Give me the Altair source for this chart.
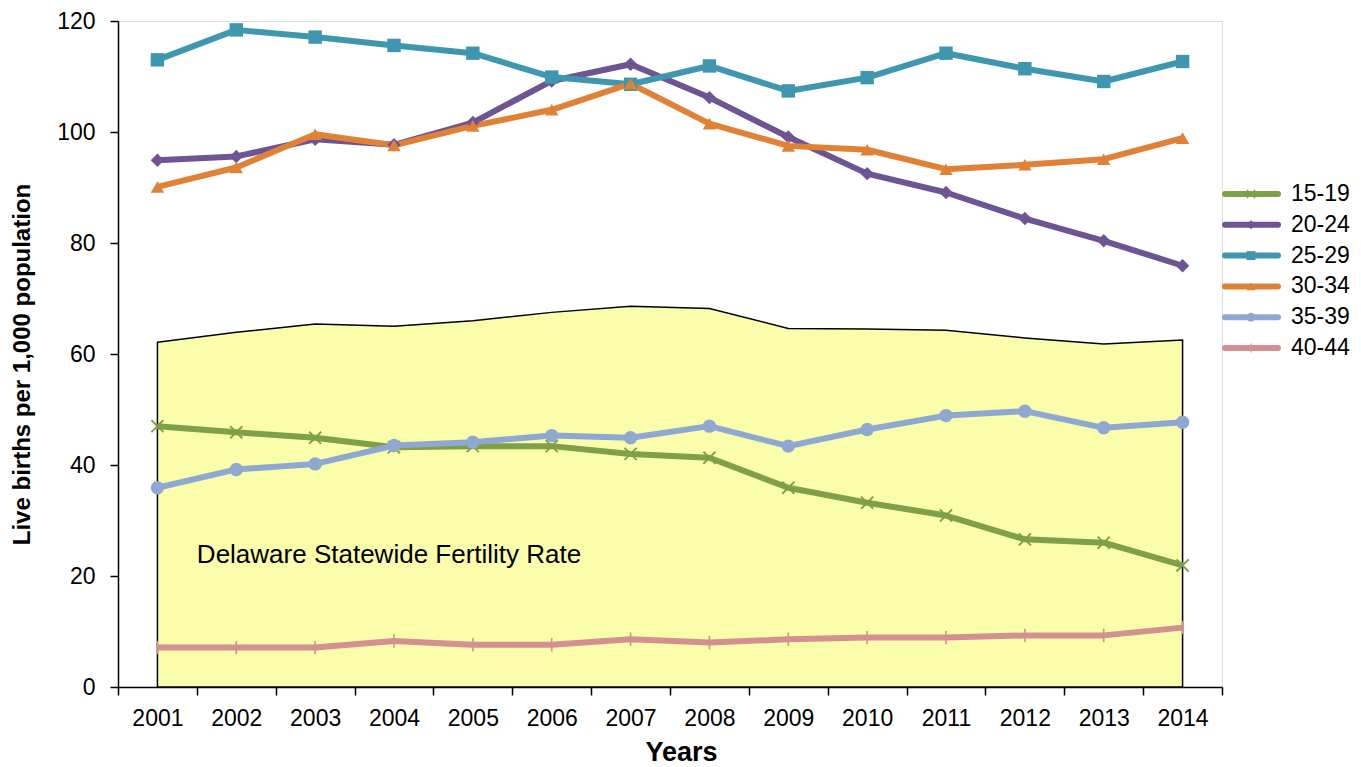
import altair as alt
import pandas as pd

years = [str(y) for y in range(2001, 2015)]
age_groups = ["15-19", "20-24", "25-29", "30-34", "35-39", "40-44"]

s15_19 = [47.0, 45.9, 44.9, 43.2, 43.4, 43.4, 42.0, 41.3, 35.9, 33.2, 30.9, 26.6, 26.0, 21.9]
s20_24 = [94.9, 95.6, 98.7, 97.7, 101.7, 109.2, 112.2, 106.2, 99.1, 92.5, 89.1, 84.4, 80.4, 75.9]
s25_29 = [113.0, 118.4, 117.1, 115.6, 114.2, 109.9, 108.6, 111.9, 107.4, 109.8, 114.2, 111.4, 109.1, 112.7]
s30_34 = [90.1, 93.6, 99.6, 97.6, 101.1, 104.0, 108.7, 101.5, 97.5, 96.8, 93.3, 94.1, 95.1, 98.9]
s35_39 = [35.9, 39.2, 40.2, 43.5, 44.1, 45.3, 44.9, 47.0, 43.4, 46.4, 48.9, 49.7, 46.7, 47.7]
s40_44 = [7.1, 7.1, 7.1, 8.3, 7.6, 7.6, 8.6, 8.0, 8.6, 8.9, 8.9, 9.3, 9.3, 10.7]
statewide = [62.1, 63.9, 65.4, 65.0, 66.0, 67.5, 68.6, 68.2, 64.6, 64.5, 64.3, 62.9, 61.8, 62.5]

annotation_text = "Delaware Statewide Fertility Rate"
annotation_year = "2002"
annotation_value = 23.7

series_values = [s15_19, s20_24, s25_29, s30_34, s35_39, s40_44]
colors = ["#7F9F48", "#6F5494", "#3F97AF", "#E08235", "#8EA8D2", "#D49090"]
x_shape = "M-1,-0.8L-0.8,-1L0,-0.2L0.8,-1L1,-0.8L0.2,0L1,0.8L0.8,1L0,0.2L-0.8,1L-1,0.8L-0.2,0Z"
tick_shape = "M-0.12,-1L0.12,-1L0.12,1L-0.12,1Z"
shapes = [x_shape, "diamond", "square", "triangle-up", "circle", tick_shape]

rows = []
for g, vals in zip(age_groups, series_values):
    for y, v in zip(years, vals):
        rows.append({"year": y, "series": g, "value": v})
df = pd.DataFrame(rows)
df_state = pd.DataFrame({"year": years, "value": statewide})
df_note = pd.DataFrame({"year": [annotation_year], "value": [annotation_value], "label": [annotation_text]})
df_leg = pd.DataFrame({"series": age_groups})

FONT = "Liberation Sans"

x_axis = alt.Axis(
    title="Years", titleFontSize=27, titleFontWeight="bold", titleColor="black", titleFont=FONT,
    titlePadding=9, titleX=563, labelFontSize=23, labelFont=FONT, labelColor="black", labelAngle=0,
    labelPadding=12, tickSize=8, tickBand="extent", tickColor="black", tickWidth=1.5,
    domainColor="black", domainWidth=1.5, grid=False,
)
x_scale = alt.Scale(type="band", domain=years, paddingInner=0, paddingOuter=0)


def xenc(bp=0.5):
    return alt.X("year:O", scale=x_scale, bandPosition=bp, axis=x_axis)


y_enc = alt.Y(
    "value:Q",
    scale=alt.Scale(domain=[0, 120], nice=False, zero=True),
    axis=alt.Axis(
        title="Live births per 1,000 population", titleFontSize=24, titleFontWeight="bold",
        titleColor="black", titleFont=FONT, titlePadding=22, titleY=343,
        values=[0, 20, 40, 60, 80, 100, 120], labelFontSize=23, labelFont=FONT,
        labelColor="black", labelPadding=15, tickSize=8, tickColor="black", tickWidth=1.5,
        domainColor="black", domainWidth=1.5, grid=False,
    ),
)

color_enc = alt.Color("series:N", scale=alt.Scale(domain=age_groups, range=colors), legend=None)
shape_enc = alt.Shape("series:N", scale=alt.Scale(domain=age_groups, range=shapes), legend=None)

area = alt.Chart(df_state).mark_area(
    fill="#FAFDAA", stroke="black", strokeWidth=1.5, opacity=1, interpolate="linear"
).encode(x=xenc(), y=y_enc)

note = alt.Chart(df_note).mark_text(
    align="left", baseline="middle", fontSize=26, font=FONT, color="black"
).encode(x=xenc(0), y=y_enc, text="label:N")

lines = alt.Chart(df).mark_line(strokeWidth=6, strokeJoin="round").encode(
    x=xenc(), y=y_enc, color=color_enc, detail="series:N"
)

points = alt.Chart(df).mark_point(filled=True, size=180, opacity=1).encode(
    x=xenc(), y=y_enc, color=color_enc, shape=shape_enc
)

main = alt.layer(area, note, lines, points)

leg_y = alt.Y("series:N", scale=alt.Scale(type="point", domain=age_groups, range=[173, 327], padding=0), axis=None)
leg_rule = alt.Chart(df_leg).mark_rule(strokeWidth=6, strokeCap="round").encode(
    y=leg_y, x=alt.value(1107), x2=alt.value(1160), color=color_enc
)
leg_pts = alt.Chart(df_leg).mark_point(filled=True, size=80, opacity=1).encode(
    y=leg_y, x=alt.value(1133), color=color_enc, shape=shape_enc
)
leg_txt = alt.Chart(df_leg).mark_text(
    align="left", baseline="middle", fontSize=23, font=FONT, color="black"
).encode(y=leg_y, x=alt.value(1173), text="series:N")
legend = alt.layer(leg_rule, leg_pts, leg_txt)

chart = alt.layer(main, legend).resolve_scale(y="independent").properties(
    width=1104, height=666, padding={"left": 2, "top": 2, "right": 0, "bottom": 2}
).configure_view(strokeWidth=0, fill="white").configure(background="white")

chart.save("out.html", embed_options={"renderer": "svg", "actions": False})
